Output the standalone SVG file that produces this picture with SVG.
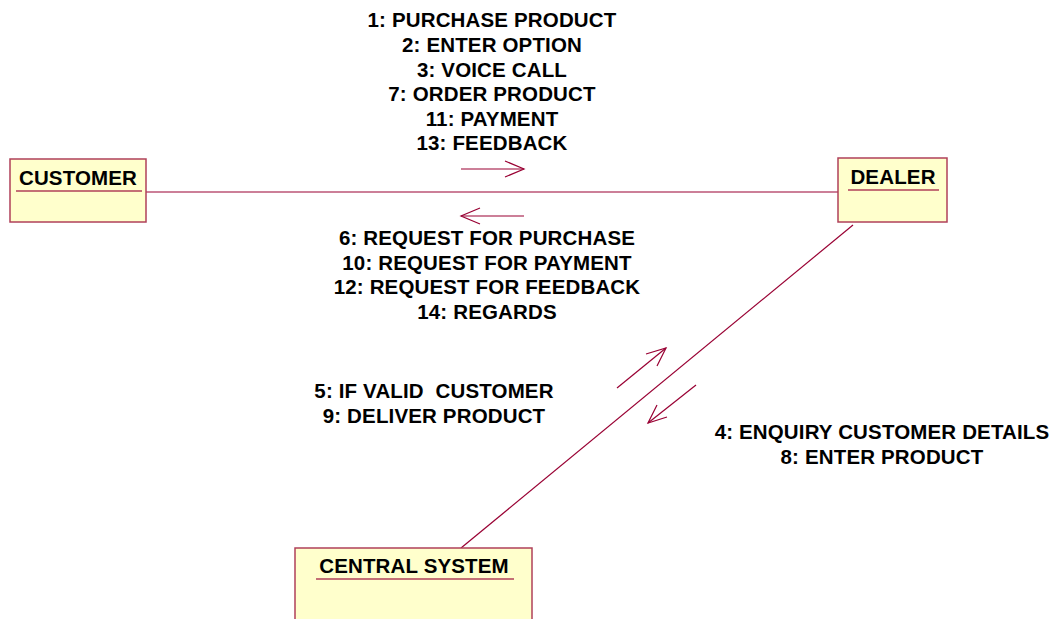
<svg xmlns="http://www.w3.org/2000/svg" width="1055" height="619" viewBox="0 0 1055 619">
<style>
.box{fill:#FFFFCC;stroke:#B0405A;stroke-width:1.5}
.ul{stroke:#B0405A;stroke-width:1.5}
.t{font-family:"Liberation Sans",Arial,sans-serif;font-weight:bold;font-size:20.5px;letter-spacing:0.15px;fill:#000;text-anchor:middle}
.ln{stroke:#990033;stroke-width:1.2;fill:none}
.ar{stroke:#990033;stroke-width:1.2;fill:none}
</style>
<rect width="1055" height="619" fill="#fff"/>
<g id="connectors">
<line class="ln" x1="146" y1="192" x2="838" y2="192"/>
<line class="ln" x1="853" y1="225" x2="461" y2="548"/>
<g id="msg-top">
<line class="ar" x1="461" y1="169" x2="524" y2="169"/>
<polyline class="ar" points="505,161 524,169 505,177"/>
</g>
<g id="msg-bottom">
<line class="ar" x1="524" y1="216" x2="461" y2="216"/>
<polyline class="ar" points="480,208 461,216 480,224"/>
</g>
<g id="msg-up">
<line class="ar" x1="617" y1="388" x2="666" y2="348"/>
<polyline class="ar" points="646,354 666,348 657,366"/>
</g>
<g id="msg-down">
<line class="ar" x1="696" y1="385" x2="648" y2="423"/>
<polyline class="ar" points="657,405 648,423 667,417"/>
</g>
<g id="labels">
<text class="t" x="492" y="27">1: PURCHASE PRODUCT</text>
<text class="t" x="492" y="52">2: ENTER OPTION</text>
<text class="t" x="492" y="77">3: VOICE CALL</text>
<text class="t" x="492" y="101">7: ORDER PRODUCT</text>
<text class="t" x="492" y="126">11: PAYMENT</text>
<text class="t" x="492" y="150">13: FEEDBACK</text>
<text class="t" x="487" y="245">6: REQUEST FOR PURCHASE</text>
<text class="t" x="487" y="270">10: REQUEST FOR PAYMENT</text>
<text class="t" x="487" y="294">12: REQUEST FOR FEEDBACK</text>
<text class="t" x="487" y="319">14: REGARDS</text>
<text class="t" x="434" y="398" xml:space="preserve">5: IF VALID  CUSTOMER</text>
<text class="t" x="434" y="423">9: DELIVER PRODUCT</text>
<text class="t" x="882" y="439">4: ENQUIRY CUSTOMER DETAILS</text>
<text class="t" x="882" y="464">8: ENTER PRODUCT</text>
</g>
</g>
<g id="customer">
<rect class="box" x="10" y="159" width="136" height="63"/>
<text class="t" x="78" y="185">CUSTOMER</text>
<line class="ul" x1="16" y1="191" x2="142" y2="191"/>
</g>
<g id="dealer">
<rect class="box" x="838" y="158" width="109" height="64"/>
<text class="t" x="893" y="184">DEALER</text>
<line class="ul" x1="848" y1="190" x2="939" y2="190"/>
</g>
<g id="central-system">
<rect class="box" x="295" y="548" width="237" height="80"/>
<text class="t" x="414" y="573">CENTRAL SYSTEM</text>
<line class="ul" x1="316" y1="579" x2="514" y2="579"/>
</g>
</svg>
